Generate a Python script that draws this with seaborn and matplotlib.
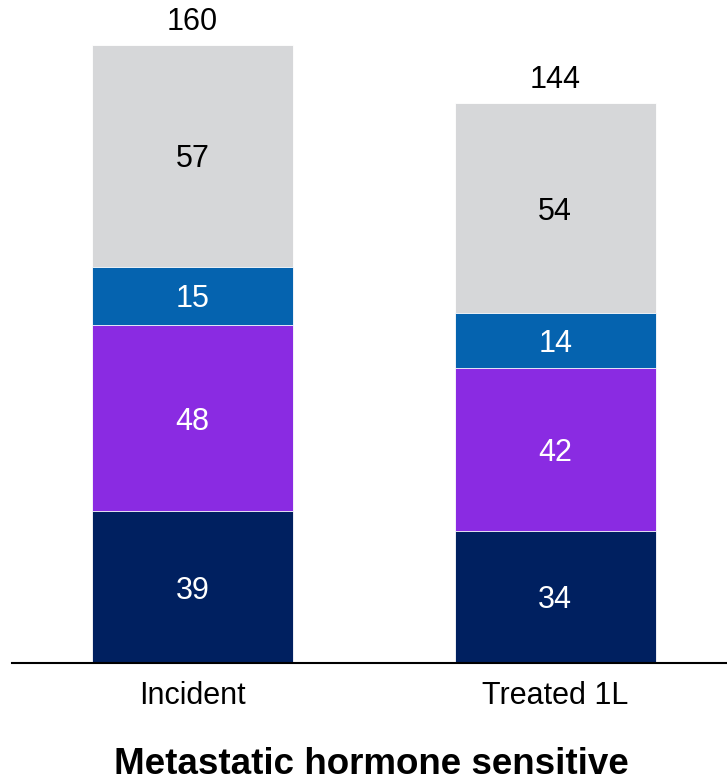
import matplotlib
matplotlib.use("Agg")
import matplotlib.pyplot as plt
import seaborn as sns
import numpy as np
import pandas as pd

categories = ["Incident", "Treated 1L"]
seg1 = [39, 34]   # navy
seg2 = [48, 42]   # purple
seg3 = [15, 14]   # blue
seg4 = [57, 54]   # grey
totals = [160, 144]
title = "Metastatic hormone sensitive"

colors = ["#002060", "#8A2BE2", "#0563AF", "#D6D7D9"]
text_colors = ["white", "white", "white", "black"]

sns.set_theme(style="white")
plt.rcParams['font.family'] = ['Liberation Sans', 'DejaVu Sans']
plt.rcParams['text.color'] = 'black'
plt.rcParams['xtick.color'] = 'black'

fig = plt.figure(figsize=(7.27, 7.80), dpi=100)
ax = fig.add_axes([12/727, 117/780, 715/727, 663/780])

segs = [seg1, seg2, seg3, seg4]
cum = np.cumsum(np.array(segs), axis=0)
for i in range(len(segs) - 1, -1, -1):
    df = pd.DataFrame({"cat": categories, "val": cum[i]})
    sns.barplot(data=df, x="cat", y="val", color=colors[i], ax=ax,
                width=0.554, edgecolor="white", linewidth=0.6,
                saturation=1, order=categories)

for i, s in enumerate(segs):
    for j, v in enumerate(s):
        bottom = cum[i][j] - v
        ax.text(j, bottom + v / 2, f"{v}", ha="center", va="center_baseline",
                fontsize=22, color=text_colors[i])

for j, t in enumerate(totals):
    ax.annotate(f"{t}", xy=(j, cum[-1][j]), xytext=(0, 6),
                textcoords="offset points", ha="center", va="bottom",
                fontsize=22, color="black")

ax.set_xlim(-0.498, 1.474)
ax.set_ylim(0, 170.6)
ax.set_xlabel("")
ax.set_ylabel("")
ax.set_yticks([])
ax.tick_params(axis="x", length=0, labelsize=22, pad=13, labelcolor="black")
for sp in ["top", "right", "left"]:
    ax.spines[sp].set_visible(False)
ax.spines["bottom"].set_color("black")
ax.spines["bottom"].set_linewidth(1.5)

fig.text(371/727, 1 - 764/780, title, ha="center", va="center",
         fontsize=26.5, fontweight="bold", color="black")

fig.savefig("out.png", dpi=100)
